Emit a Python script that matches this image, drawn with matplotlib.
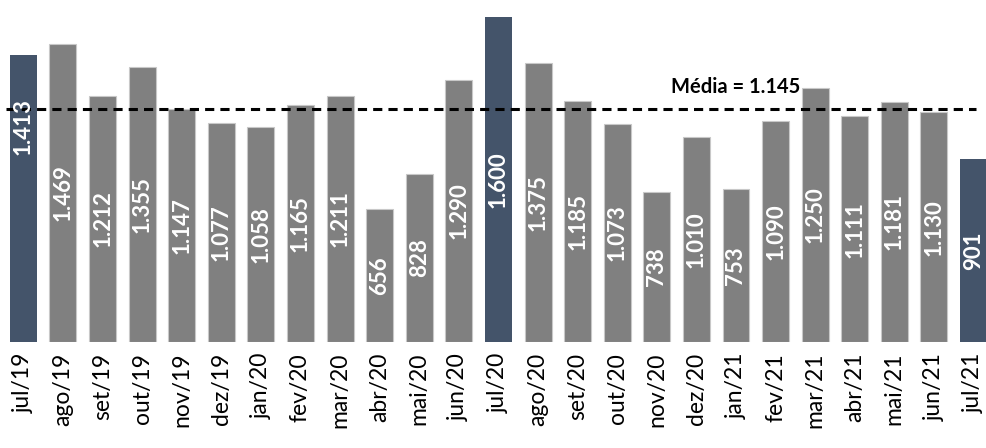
import matplotlib.pyplot as plt
import numpy as np

plt.rcParams['font.family'] = ['Lato', 'DejaVu Sans']

# Meses e valores
meses = ["jul/19", "ago/19", "set/19", "out/19", "nov/19", "dez/19", "jan/20", "fev/20",
         "mar/20", "abr/20", "mai/20", "jun/20", "jul/20", "ago/20", "set/20", "out/20",
         "nov/20", "dez/20", "jan/21", "fev/21", "mar/21", "abr/21", "mai/21", "jun/21", "jul/21"]
valores = [1413, 1469, 1212, 1355, 1147, 1077, 1058, 1165, 1211, 656, 828, 1290, 1600,
           1375, 1185, 1073, 738, 1010, 753, 1090, 1250, 1111, 1181, 1130, 901]
destaque = ["jul/19", "jul/20", "jul/21"]
media = 1145

cinza = "#808080"
azul = "#44546A"

fig = plt.figure(figsize=(9.87, 4.48), dpi=100)
ax = fig.add_axes([0, 0.237, 1, 0.763])

x = np.arange(len(meses))
cores = [azul if m in destaque else cinza for m in meses]
bordas = ["none" if m in destaque else "#C8C8C8" for m in meses]
ax.bar(x, valores, width=0.68, color=cores, edgecolor=bordas, linewidth=0.8, zorder=2)

# Rotulos dentro das barras
for i, v in enumerate(valores):
    txt = f"{v:,}".replace(",", ".")
    y = v / 2
    if i == 0:
        y = v * 0.75
    ax.text(i, y, txt, rotation=90, ha="center", va="center", color="white",
            fontsize=16, fontweight="bold", zorder=4)

# Linha da media
ax.plot([-0.45, 24.05], [media, media], color="black", linestyle=(0, (3, 2)),
        linewidth=2.2, zorder=3)
ax.text(18.0, 1256, "Média = 1.145", ha="center", va="center", fontsize=14.5,
        fontweight="bold", color="black", zorder=5)

ax.set_xlim(-0.59, 24.34)
ax.set_ylim(0, 1684)
ax.set_xticks(x)
ax.set_xticklabels(meses, rotation=90, fontsize=16.5)
ax.tick_params(axis="x", length=0, pad=8)
ax.set_yticks([])
for s in ax.spines.values():
    s.set_visible(False)

fig.savefig("out.png", dpi=100)
